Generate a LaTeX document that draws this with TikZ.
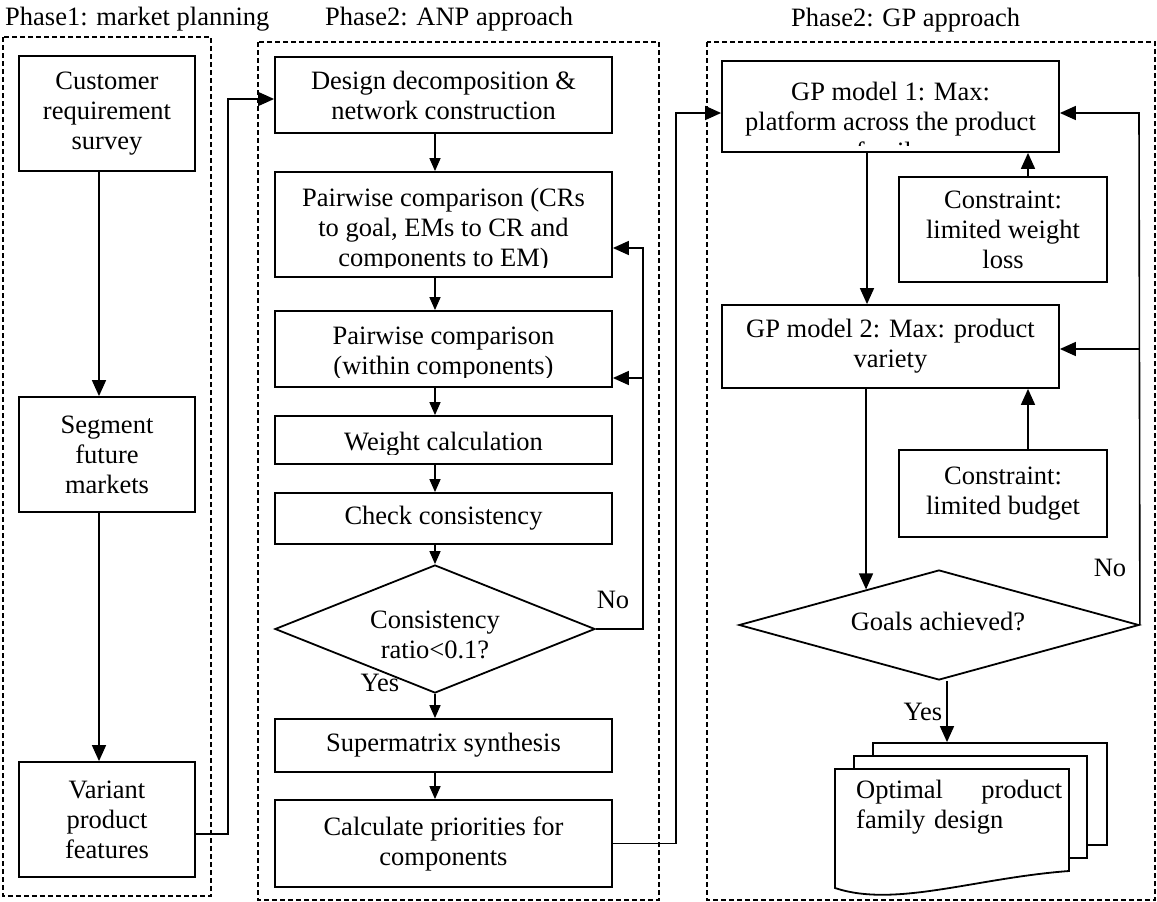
\documentclass[tikz,border=0pt]{standalone}
\usepackage{fontspec}
\setmainfont{Liberation Serif}
\usetikzlibrary{shapes.geometric,arrows.meta}

\begin{document}
\begin{tikzpicture}[x=1pt,y=-1pt,font=\fontsize{26.5}{30}\selectfont,
  phase/.style={draw=black,line width=1.5pt,dash pattern=on 5pt off 3pt},
  box/.style={draw=black,line width=1.8pt,fill=white,align=center,inner sep=0pt},
  txt/.style={align=center,inner sep=0pt},
  choice/.style={draw=black,line width=1.8pt,fill=white,diamond,inner sep=0pt},
  sheet/.style={draw=black,line width=1.8pt,fill=white,inner sep=0pt},
  link/.style={line width=1.6pt},
  arr/.style={link,-{Triangle[length=16pt,width=14pt]}},
  arrs/.style={link,-{Triangle[length=13pt,width=11pt]}}]
\useasboundingbox (0,0) rectangle (1157,902);
\draw[phase] (3,37) rectangle (211,896);
\draw[phase] (258,42) rectangle (659,900);
\draw[phase] (707,42) rectangle (1155,900);
\node[anchor=base west,inner sep=0pt] (ph1) at (5,25) {Phase1: market planning};
\node[anchor=base west,inner sep=0pt] (ph2) at (325,25) {Phase2: ANP approach};
\node[anchor=base west,inner sep=0pt] (ph3) at (791,27) {Phase2: GP approach};
% phase 1
\node[box,minimum width=176pt,minimum height=115pt] (crs) at (107,113.5) {Customer\\requirement\\survey};
\node[box,minimum width=176pt,minimum height=115pt] (seg) at (107,454.5) {Segment\\future\\markets};
\node[box,minimum width=176pt,minimum height=115pt] (var) at (107,819.5) {Variant\\product\\features};
% phase 2, ANP
\node[box,minimum width=337pt,minimum height=76pt] (des) at (443.5,95) {Design decomposition \&\\network construction};
\node[box,minimum width=337pt,minimum height=105pt] (pw1) at (443.5,224.5) {};
\begin{scope}
\clip (275,172) rectangle (612,267);
\node[txt] (pw1txt) at (443.5,230) {Pairwise comparison (CRs\\to goal, EMs to CR and\\components to EM)};
\end{scope}
\node[box,minimum width=337pt,minimum height=76pt] (pw2) at (443.5,349) {};
\begin{scope}
\clip (275,311) rectangle (612,377);
\node[txt] (pw2txt) at (443.5,354) {Pairwise comparison\\(within components)};
\end{scope}
\node[box,minimum width=337pt,minimum height=48pt] (wc) at (443.5,440) {};
\begin{scope}
\clip (275,416) rectangle (612,454);
\node[txt] (wctxt) at (443.5,444) {Weight calculation};
\end{scope}
\node[box,minimum width=337pt,minimum height=51pt] (cc) at (443.5,518.5) {Check consistency};
\node[choice,minimum width=320pt,minimum height=128pt] (dec) at (435,629) {};
\node[txt] (dectxt) at (435,635) {Consistency\\ratio<0.1?};
\node[box,minimum width=337pt,minimum height=53pt] (sms) at (443.5,745.5) {Supermatrix synthesis};
\node[box,minimum width=337pt,minimum height=87pt] (cpc) at (443.5,843.5) {Calculate priorities for\\components};
\node[txt] (no1) at (613,600) {No};
\node[txt] (yes1) at (380,683) {Yes};
% phase 2, GP
\node[box,minimum width=337pt,minimum height=91pt] (gp1) at (890.5,106.5) {};
\begin{scope}
\clip (722,61) rectangle (1059,145);
\node[txt] (gp1txt) at (890.5,124) {GP model 1: Max:\\platform across the product\\family};
\end{scope}
\node[box,minimum width=208pt,minimum height=105pt] (con1) at (1003,229.5) {Constraint:\\limited weight\\loss};
\node[box,minimum width=337pt,minimum height=83pt] (gp2) at (890.5,346.5) {GP model 2: Max: product\\variety};
\node[box,minimum width=208pt,minimum height=87pt] (con2) at (1003,493.5) {Constraint:\\limited budget};
\node[choice,minimum width=400pt,minimum height=110pt] (goal) at (939,625) {};
\node[txt] (goaltxt) at (938,621) {Goals achieved?};
\node[txt] (no2) at (1110,568) {No};
\node[txt] (yes2) at (923,712) {Yes};
\node[sheet,minimum width=234pt,minimum height=102pt] (docb) at (990,794) {};
\node[sheet,minimum width=233pt,minimum height=102pt] (docm) at (970.5,807) {};
\draw[sheet] (835,769) -- (1069,769) -- (1069,871) .. controls (975,878) and (895,908) .. (835,888) -- cycle;
\node[txt,text width=206pt,align=left,anchor=north west] (doc) at (856,780) {Optimal\hfill product\\family design};
% connectors
\draw[arr] ([xshift=-8pt]crs.south) -- ([xshift=-8pt]seg.north);
\draw[arr] ([xshift=-8pt]seg.south) -- ([xshift=-8pt]var.north);
\draw[arr] ([yshift=-14.5pt]var.east) -- ++(32,0) |- ([yshift=-4pt]des.west);
\draw[arrs] (des.south -| dec.north) -- (pw1.north -| dec.north);
\draw[arrs] (pw1.south -| dec.north) -- (pw2.north -| dec.north);
\draw[arrs] (pw2.south -| dec.north) -- (wc.north -| dec.north);
\draw[arrs] (wc.south -| dec.north) -- (cc.north -| dec.north);
\draw[arrs] (cc.south -| dec.north) -- (dec.north);
\draw[arrs] (dec.south) -- (sms.north -| dec.south);
\draw[arrs] (sms.south -| dec.north) -- (cpc.north -| dec.north);
\coordinate (loopa) at (643,248);
\coordinate (loopb) at (643,378);
\draw[arr] (dec.east) -| (loopa) -- (loopa -| pw1.east);
\draw[arr] (loopb) -- (loopb -| pw2.east);
\draw[arr] (cpc.east) -- ++(63,0) |- ([yshift=-6.5pt]gp1.west);
\draw[arr] ([xshift=25pt]con1.north) -- ([xshift=25pt]con1.north |- gp1.south);
\draw[arr] ([xshift=-23.5pt]gp1.south) -- ([xshift=-23.5pt]gp1.south |- gp2.north);
\draw[arr] ([xshift=25pt]con2.north) -- ([xshift=25pt]con2.north |- gp2.south);
\draw[arr] (gp2.south -| goal.154) -- (goal.154);
\coordinate (loopc) at (1139,113);
\coordinate (loopd) at (1139,349);
\draw[arr] (goal.east) -- (loopc) -- (loopc -| gp1.east);
\draw[arr] (loopd) -- (loopd -| gp2.east);
\draw[arr] ([xshift=8pt]goal.south) -- ([xshift=8pt]goal.south |- docb.north);
\end{tikzpicture}
\end{document}
